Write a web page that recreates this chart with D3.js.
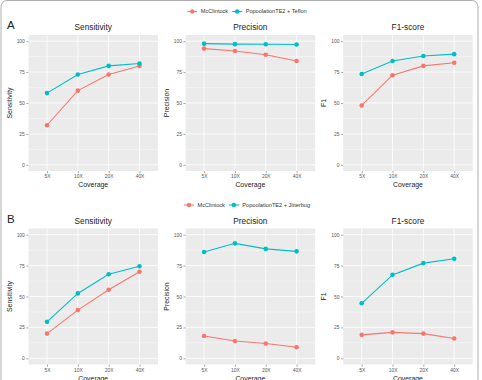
<!DOCTYPE html>
<html>
<head>
<meta charset="utf-8">
<script src="https://cdn.jsdelivr.net/npm/d3@7"></script>
<style>
  body { margin: 0; background: #fff; }
  svg { display: block; font-family: "Liberation Sans", Arial, sans-serif; }
</style>
</head>
<body>
<svg id="chart" width="482" height="380"></svg>
<script>
// Data
const coverage = ["5X", "10X", "20X", "40X"];
const yTicks = [0, 25, 50, 75, 100];
const metrics = ["Sensitivity", "Precision", "F1-score"];
const yTitles = ["Sensitivity", "Precision", "F1"];

// Panel A: McClintock vs PopoolationTE2 + Teflon
const aMcClintock = {
  Sensitivity: [32, 60, 73, 80],
  Precision: [94, 92, 89, 84],
  "F1-score": [48, 72.5, 80, 82.5]
};
const aTeflon = {
  Sensitivity: [58, 73, 80, 82],
  Precision: [98, 97.6, 97.5, 97.3],
  "F1-score": [73.5, 84, 88, 89.5]
};

// Panel B: McClintock vs PopoolationTE2 + Jitterbug
const bMcClintock = {
  Sensitivity: [20, 39, 55.5, 70],
  Precision: [18, 14, 12, 9],
  "F1-score": [19, 21, 20, 16]
};
const bJitterbug = {
  Sensitivity: [29.5, 52.5, 68, 74.5],
  Precision: [86, 93, 88.5, 86.5],
  "F1-score": [44.5, 67.5, 77, 80.5]
};

const colMc = "#F8766D", colPop = "#00BFC4";

const rows = [
  { letter: "A", top: 35, series: [["McClintock", aMcClintock, colMc], ["PopoolationTE2 + Teflon", aTeflon, colPop]] },
  { letter: "B", top: 228.5, series: [["McClintock", bMcClintock, colMc], ["PopoolationTE2 + Jitterbug", bJitterbug, colPop]] }
];

const panelLefts = [28.5, 185.6, 343.2];
const panelW = 129.5, panelH = 136;

const svg = d3.select("#chart");

// figure frame
svg.append("rect")
  .attr("x", 1).attr("y", 0.5).attr("width", 477).attr("height", 420)
  .attr("rx", 6).attr("fill", "none").attr("stroke", "#9a9a9a").attr("stroke-width", 0.8);

rows.forEach(row => {
  const g = svg.append("g");

  g.append("text")
    .attr("x", 7).attr("y", row.top - 6)
    .attr("font-size", 11.5).attr("fill", "#222")
    .text(row.letter);

  // legend, centred over the middle panel
  const leg = g.append("g");
  let lx = 0;
  row.series.forEach(([name, , col]) => {
    const it = leg.append("g").attr("transform", `translate(${lx},0)`);
    it.append("line").attr("x1", 0).attr("x2", 10).attr("stroke", col).attr("stroke-width", 1.1);
    it.append("circle").attr("cx", 5).attr("r", 2.2).attr("fill", col);
    const t = it.append("text").attr("x", 13.5).attr("dy", "0.35em")
      .attr("font-size", 5.6).attr("fill", "#333").text(name);
    lx += 13.5 + t.node().getComputedTextLength() + 4;
  });
  const legW = lx - 4;
  leg.attr("transform", `translate(${247 - legW / 2},${row.top - 23.5})`);

  metrics.forEach((m, i) => {
    const left = panelLefts[i], top = row.top;
    const x = d3.scalePoint().domain(coverage).range([left, left + panelW]).padding(0.6);
    const y = d3.scaleLinear().domain([-5, 105]).range([top + panelH, top]);
    const p = g.append("g");

    p.append("rect").attr("x", left).attr("y", top)
      .attr("width", panelW).attr("height", panelH).attr("fill", "#EBEBEB");

    // minor grid
    p.append("g").selectAll("line")
      .data([12.5, 37.5, 62.5, 87.5])
      .join("line")
      .attr("x1", left).attr("x2", left + panelW)
      .attr("y1", d => y(d)).attr("y2", d => y(d))
      .attr("stroke", "#fff").attr("stroke-width", 0.4);
    // major grid
    p.append("g").selectAll("line")
      .data(yTicks)
      .join("line")
      .attr("x1", left).attr("x2", left + panelW)
      .attr("y1", d => y(d)).attr("y2", d => y(d))
      .attr("stroke", "#fff").attr("stroke-width", 0.8);
    p.append("g").selectAll("line")
      .data(coverage)
      .join("line")
      .attr("x1", d => x(d)).attr("x2", d => x(d))
      .attr("y1", top).attr("y2", top + panelH)
      .attr("stroke", "#fff").attr("stroke-width", 0.8);

    // axes
    const ya = p.append("g").attr("transform", `translate(${left},0)`)
      .call(d3.axisLeft(y).tickValues(yTicks).tickSize(2.2).tickPadding(1.5));
    const xa = p.append("g").attr("transform", `translate(0,${top + panelH})`)
      .call(d3.axisBottom(x).tickSize(2.2).tickPadding(1.5));
    [ya, xa].forEach(a => {
      a.select(".domain").remove();
      a.selectAll(".tick line").attr("stroke", "#555").attr("stroke-width", 0.5);
      a.selectAll(".tick text").attr("font-size", 4.9).attr("fill", "#555")
        .attr("font-family", "'Liberation Sans', Arial, sans-serif");
    });

    // titles
    p.append("text").attr("x", left + panelW / 2).attr("y", top - 5)
      .attr("text-anchor", "middle").attr("font-size", 8.3).attr("fill", "#222").text(m);
    p.append("text").attr("x", left + panelW / 2).attr("y", top + panelH + 16)
      .attr("text-anchor", "middle").attr("font-size", 6.9).attr("fill", "#222").text("Coverage");
    p.append("text")
      .attr("transform", `translate(${left - 17},${top + panelH / 2}) rotate(-90)`)
      .attr("text-anchor", "middle").attr("font-size", 6.9).attr("fill", "#222").text(yTitles[i]);

    // series
    const line = d3.line().x((d, j) => x(coverage[j])).y(d => y(d));
    row.series.forEach(([name, data, col]) => {
      const vals = data[m];
      p.append("path").attr("d", line(vals))
        .attr("fill", "none").attr("stroke", col).attr("stroke-width", 1.1);
      p.append("g").selectAll("circle")
        .data(vals)
        .join("circle")
        .attr("cx", (d, j) => x(coverage[j])).attr("cy", d => y(d))
        .attr("r", 2.3).attr("fill", col);
    });
  });
});
</script>
</body>
</html>
